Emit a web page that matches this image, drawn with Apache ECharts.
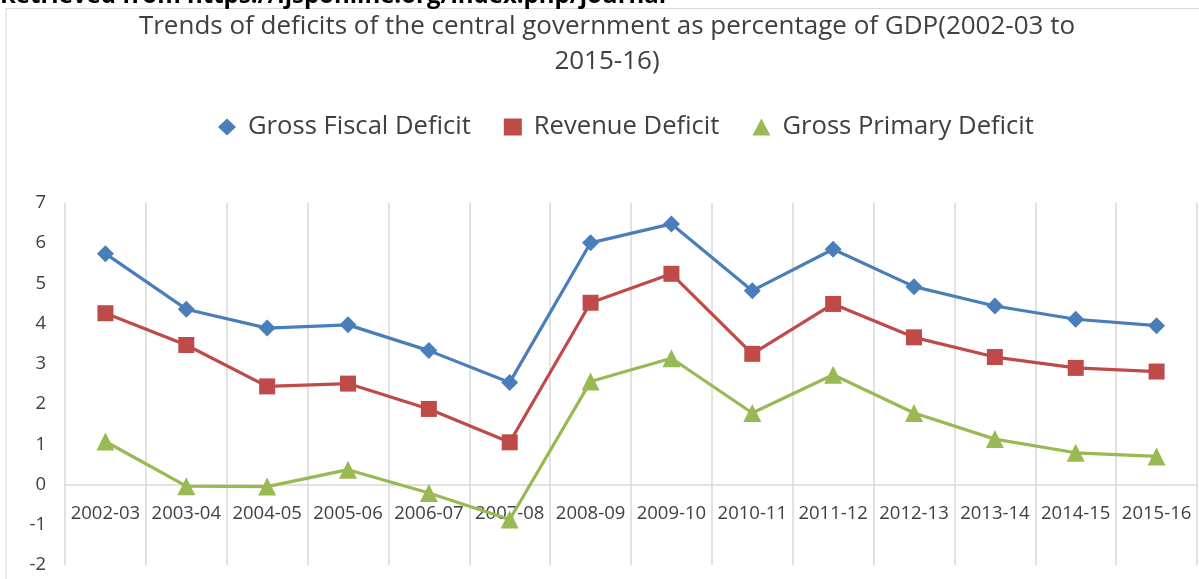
<!DOCTYPE html>
<html>
<head>
<meta charset="utf-8">
<script src="https://cdn.jsdelivr.net/npm/echarts@6/dist/echarts.min.js"></script>
<style>
html,body{margin:0;padding:0;background:#fff;}
#c{width:1199px;height:579px;}
</style>
</head>
<body>
<div id="c"></div>
<script>
var categories = ['2002-03','2003-04','2004-05','2005-06','2006-07','2007-08','2008-09','2009-10','2010-11','2011-12','2012-13','2013-14','2014-15','2015-16'];
var grossFiscalDeficit = [5.74, 4.36, 3.89, 3.97, 3.33, 2.54, 6.01, 6.48, 4.82, 5.85, 4.92, 4.44, 4.11, 3.95];
var revenueDeficit = [4.26, 3.47, 2.44, 2.51, 1.88, 1.05, 4.52, 5.24, 3.25, 4.49, 3.66, 3.17, 2.90, 2.81];
var grossPrimaryDeficit = [1.07, -0.04, -0.05, 0.37, -0.21, -0.87, 2.56, 3.14, 1.78, 2.73, 1.78, 1.13, 0.79, 0.70];
var yTicks = { min: -2, max: 7, interval: 1 };
var titleLines = ['Trends of deficits of the central government as percentage of GDP(2002-03 to', '2015-16)'];
var sourceText = 'Retrieved from https://ijsponline.org/index.php/journal';

var FONT = '"Open Sans", sans-serif';
var GRID_TOP = 203, GRID_BOTTOM = 14, H = 579;
var plotH = H - GRID_TOP - GRID_BOTTOM;
var zeroOffset = plotH * (0 - yTicks.min) / (yTicks.max - yTicks.min);

var chart = echarts.init(document.getElementById('c'), null, {renderer: 'canvas'});
var option = {
  backgroundColor: '#ffffff',
  animation: false,
  graphic: [
    { type: 'polyline', silent: true, shape: { points: [[6, 579], [6, 8.5], [1199, 8.5]] },
      style: { stroke: '#d9d9d9', lineWidth: 1, fill: null } },
    { type: 'text', left: 0, top: -16, style: { text: sourceText, font: 'bold 24px ' + FONT, fill: '#000' } },
    { type: 'text', x: 607, y: 27, style: { text: titleLines[0], font: '26px ' + FONT, fill: '#404040', align: 'center', verticalAlign: 'middle' } },
    { type: 'text', x: 607, y: 62, style: { text: titleLines[1], font: '26px ' + FONT, fill: '#404040', align: 'center', verticalAlign: 'middle' } }
  ],
  legend: {
    top: 109,
    left: 213,
    itemGap: 33,
    itemWidth: 18,
    itemHeight: 17,
    textStyle: { fontFamily: FONT, fontSize: 25.6, color: '#404040', padding: [0, 0, 0, 7] },
    data: [
      { name: 'Gross Fiscal Deficit', icon: 'diamond' },
      { name: 'Revenue Deficit', icon: 'rect' },
      { name: 'Gross Primary Deficit', icon: 'triangle' }
    ]
  },
  grid: { left: 65, right: 2, top: GRID_TOP, bottom: GRID_BOTTOM, containLabel: false, outerBoundsMode: 'none' },
  xAxis: {
    type: 'category',
    data: categories,
    boundaryGap: true,
    offset: -zeroOffset,
    axisLine: { onZero: false, lineStyle: { color: '#d9d9d9', width: 1.5 } },
    axisTick: { show: false },
    axisLabel: { fontFamily: FONT, fontSize: 18.5, color: '#404040', margin: 20, interval: 0 },
    splitLine: { show: true, lineStyle: { color: '#d9d9d9', width: 1.5 } }
  },
  yAxis: {
    type: 'value',
    min: yTicks.min, max: yTicks.max, interval: yTicks.interval,
    axisLine: { show: false },
    axisTick: { show: false },
    splitLine: { show: false },
    axisLabel: { fontFamily: FONT, fontSize: 18.5, color: '#404040', margin: 19 }
  },
  series: [
    { name: 'Gross Fiscal Deficit', type: 'line', data: grossFiscalDeficit, symbol: 'diamond', symbolSize: 17,
      itemStyle: { color: '#4a7ebb' }, lineStyle: { color: '#4a7ebb', width: 3.2 } },
    { name: 'Revenue Deficit', type: 'line', data: revenueDeficit, symbol: 'rect', symbolSize: 16,
      itemStyle: { color: '#be4b48' }, lineStyle: { color: '#be4b48', width: 3.2 } },
    { name: 'Gross Primary Deficit', type: 'line', data: grossPrimaryDeficit, symbol: 'triangle', symbolSize: 18,
      itemStyle: { color: '#98b954' }, lineStyle: { color: '#98b954', width: 3.2 } }
  ]
};
chart.setOption(option);
</script>
</body>
</html>
